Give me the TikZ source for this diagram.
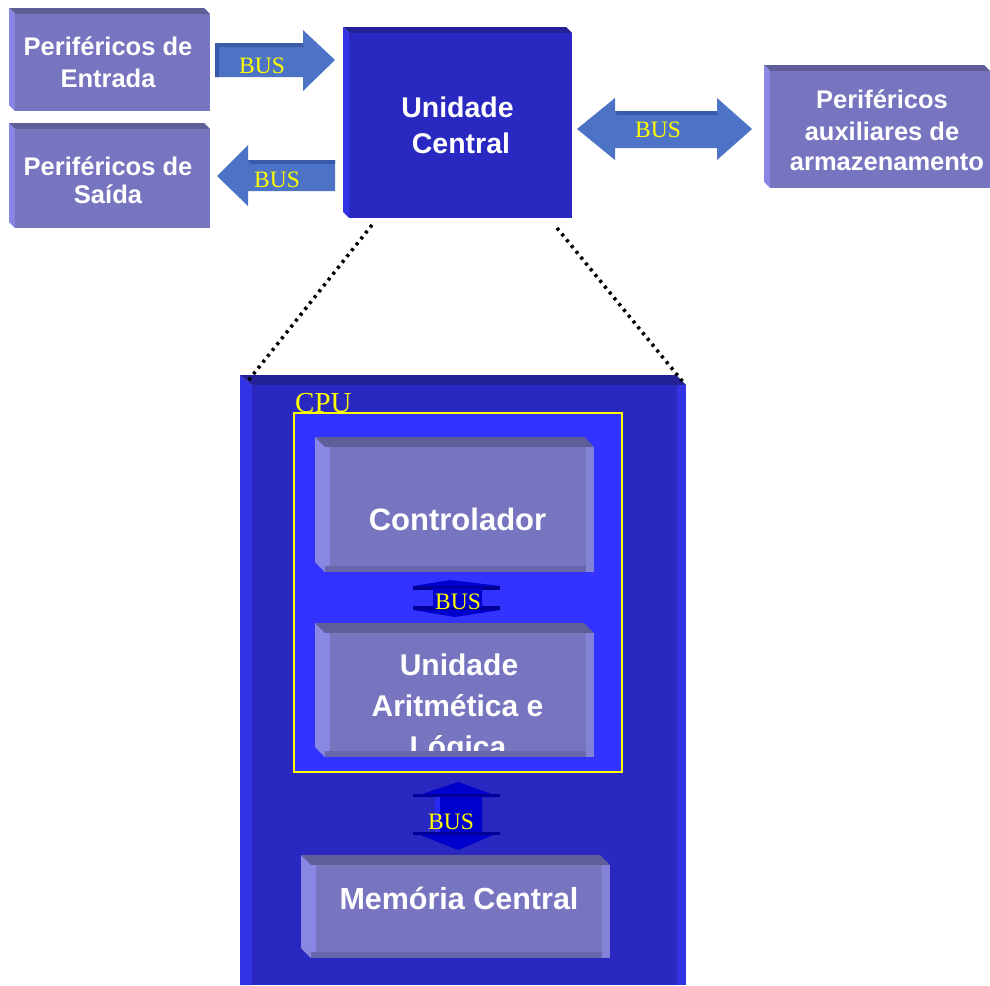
\documentclass[tikz,border=0pt]{standalone}
\usepackage{fontspec}
\setmainfont{Liberation Sans}
\newfontfamily\timesf{Liberation Serif}
\definecolor{faceL}{RGB}{119,117,192}
\definecolor{topL}{RGB}{95,94,153}
\definecolor{leftL}{RGB}{136,136,228}
\definecolor{rightL}{RGB}{130,130,215}
\definecolor{botL}{RGB}{104,103,172}
\definecolor{faceD}{RGB}{41,40,192}
\definecolor{topD}{RGB}{34,34,150}
\definecolor{leftD}{RGB}{51,51,230}
\definecolor{arrowB}{RGB}{77,115,199}
\definecolor{arrowT}{RGB}{58,90,170}
\definecolor{innerB}{RGB}{51,51,255}
\definecolor{busD}{RGB}{0,0,204}
\definecolor{busDD}{RGB}{0,0,150}
\definecolor{yel}{RGB}{255,255,0}
% x1 y1 x2 y2 depth face top left
\newcommand\bevbox[8]{%
  \fill[#7] (#1,#2) -- (#3-#5,#2) -- (#3,#2+#5) -- (#1+#5,#2+#5) -- cycle;
  \fill[#8] (#1,#2) -- (#1+#5,#2+#5) -- (#1+#5,#4) -- (#1,#4-#5) -- cycle;
  \fill[#6] (#1+#5,#2+#5) rectangle (#3,#4);
}
% inner 3D boxes with side strips
\newcommand\innbox[4]{%
  \bevbox{#1}{#2}{#3}{#4}{10}{faceL}{topL}{leftL}
  \fill[leftL] (#1+10,#2+10) rectangle (#1+15,#4);
  \fill[rightL] (#3-8,#2+10) rectangle (#3,#4);
  \fill[botL] (#1+10,#4-6) rectangle (#3-8,#4);
}
\tikzset{
  lbl/.style={text=white, anchor=base, inner sep=0pt, align=center},
  buslbl/.style={text=yel, font=\timesf\fontsize{23.5}{28}\selectfont, anchor=base, inner sep=0pt},
  dotline/.style={draw=black, line width=3.5pt, dash pattern=on 3pt off 4.5pt},
}
\begin{document}
\begin{tikzpicture}[x=1pt,y=-1pt]
\useasboundingbox (0,0) rectangle (990,985);
% ---------- peripheral boxes ----------
\bevbox{9}{8}{210}{111}{6}{faceL}{topL}{leftL}
\bevbox{9}{123}{210}{228}{6}{faceL}{topL}{leftL}
\bevbox{764}{65}{990}{188}{6}{faceL}{topL}{leftL}
\node[lbl, font=\fontsize{25.5}{30}\bfseries\selectfont] (pe1) at (108,55) {Periféricos de};
\node[lbl, font=\fontsize{25.5}{30}\bfseries\selectfont] (pe2) at (108,87) {Entrada};
\node[lbl, font=\fontsize{25.5}{30}\bfseries\selectfont] (ps1) at (108,175) {Periféricos de};
\node[lbl, font=\fontsize{25.5}{30}\bfseries\selectfont] (ps2) at (108,203) {Saída};
\node[lbl, font=\fontsize{25.5}{30}\bfseries\selectfont] (pa1) at (882,108) {Periféricos};
\node[lbl, font=\fontsize{25.5}{30}\bfseries\selectfont] (pa2) at (882,140) {auxiliares de};
\node[lbl, font=\fontsize{25.5}{30}\bfseries\selectfont] (pa3) at (887,170) {armazenamento};
% ---------- Unidade Central ----------
\bevbox{343}{27}{572}{218}{6}{faceD}{topD}{leftD}
\node[lbl, font=\fontsize{28.5}{34}\bfseries\selectfont] (uc1) at (457.5,117) {Unidade};
\node[lbl, font=\fontsize{28.5}{34}\bfseries\selectfont] (uc2) at (461,153) {Central};
% ---------- BUS arrows (top) ----------
% right arrow (Entrada -> UC)
\fill[arrowB] (215,43) -- (303,43) -- (303,30) -- (335,60) -- (303,91) -- (303,77) -- (215,77) -- cycle;
\fill[arrowT] (215,43) -- (303,43) -- (303,47) -- (219,47) -- cycle;
\fill[arrowT] (215,43) -- (219,47) -- (219,77) -- (215,77) -- cycle;
\node[buslbl] (bus1) at (262,73) {BUS};
% left arrow (UC -> Saida)
\fill[arrowB] (217,176) -- (248,145) -- (248,160) -- (335,160) -- (335,191) -- (248,191) -- (248,206) -- cycle;
\fill[arrowT] (248,160) -- (335,160) -- (335,164) -- (250,164) -- cycle;
\node[buslbl] (bus2) at (277,187) {BUS};
% double arrow (UC <-> auxiliares)
\fill[arrowB] (577,129) -- (615,98) -- (615,111) -- (717,111) -- (717,98) -- (752,129) -- (717,160) -- (717,148) -- (615,148) -- (615,160) -- cycle;
\fill[arrowT] (615,111) -- (717,111) -- (717,115) -- (617,115) -- cycle;
\node[buslbl] (bus3) at (658,137) {BUS};
% ---------- big detail box ----------
\fill[leftD] (240,375) -- (252,385) -- (252,985) -- (240,985) -- cycle;
\fill[topD] (240,375) -- (676,375) -- (686,385) -- (252,385) -- cycle;
\fill[faceD] (252,385) rectangle (686,985);
\fill[leftD] (677,385) rectangle (686,985);
% CPU rectangle
\fill[innerB, draw=yel, line width=1.5pt] (294,413) rectangle (622,772);
\node[text=yel, font=\timesf\fontsize{29}{34}\selectfont, anchor=base west, inner sep=0pt] (cpu) at (295,412) {CPU};
% Controlador
\innbox{315}{437}{594}{572}
\node[lbl, font=\fontsize{31}{36}\bfseries\selectfont] (ctrl) at (457.5,530) {Controlador};
% small BUS (flattened vertical double arrow)
\fill[busD] (450,580) -- (500,586) -- (482,588) -- (482,608) -- (500,610) -- (455,617) -- (413,610) -- (433,608) -- (433,588) -- (413,586) -- cycle;
\fill[busDD] (413,586) rectangle (500,590);
\fill[busDD] (413,606) rectangle (500,610);
\fill[busD] (433,588) rectangle (482,608);
\node[buslbl] (bus4) at (458,609) {BUS};
% ALU
\innbox{315}{623}{594}{757}
\begin{scope}
\clip (315,623) rectangle (594,750);
\node[lbl, font=\fontsize{30}{40}\bfseries\selectfont] (alu1) at (459,675) {Unidade};
\node[lbl, font=\fontsize{30}{40}\bfseries\selectfont] (alu2) at (457.5,716) {Aritmética e};
\node[lbl, font=\fontsize{30}{40}\bfseries\selectfont] (alu3) at (458,757) {Lógica};
\end{scope}
% lower BUS (vertical double arrow)
\fill[busD] (458,782) -- (500,797) -- (482,797) -- (482,832) -- (500,832) -- (458,850) -- (413,832) -- (435,832) -- (435,797) -- (413,797) -- cycle;
\fill[busDD] (413,794) rectangle (500,797);
\fill[busDD] (413,832) rectangle (500,835);
\fill[innerB!80!busD] (435,797) rectangle (440,832);
\node[buslbl] (bus5) at (451,829) {BUS};
% Memoria Central
\innbox{301}{855}{610}{958}
\node[lbl, font=\fontsize{30.5}{36}\bfseries\selectfont] (mem) at (459,909) {Memória Central};
% ---------- dotted zoom lines ----------
\coordinate (zl1) at (372,225);
\coordinate (zl2) at (248,381);
\coordinate (zr1) at (557,228);
\coordinate (zr2) at (683,382);
\draw[dotline] (zl1) -- (zl2);
\draw[dotline] (zr1) -- (zr2);
\end{tikzpicture}
\end{document}
